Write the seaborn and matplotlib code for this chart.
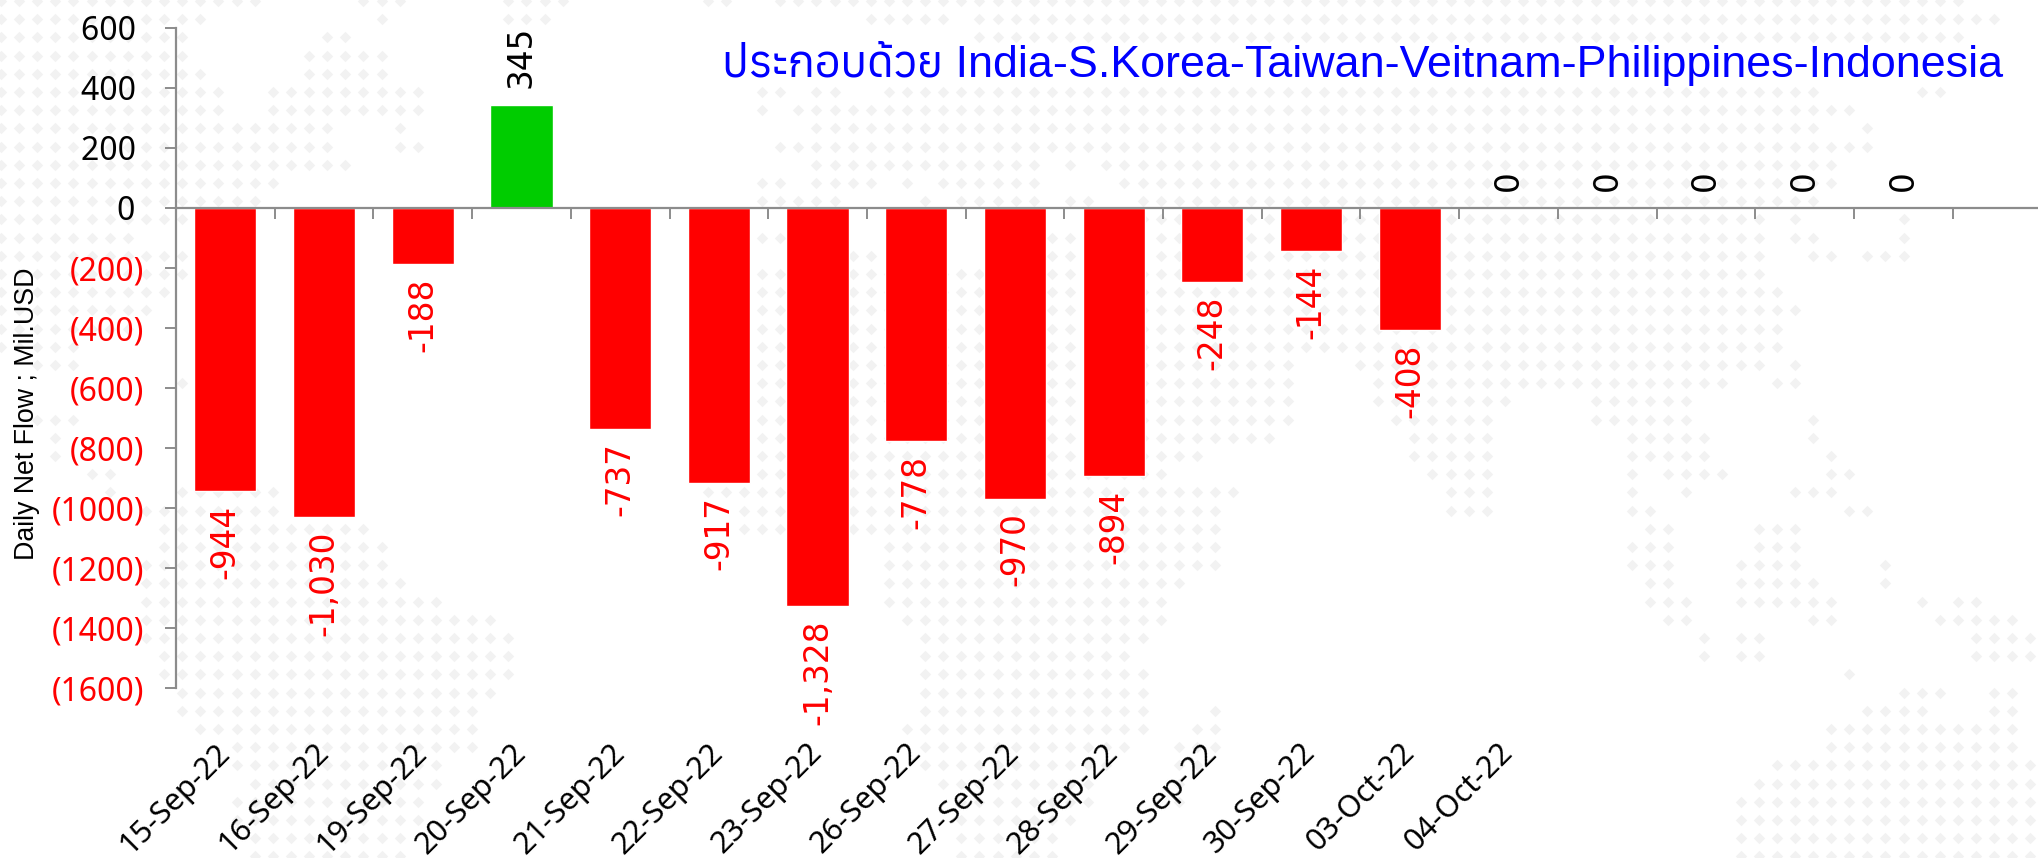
import numpy as np
import pandas as pd
import seaborn as sns
from matplotlib import pyplot as plt
from matplotlib.ticker import FuncFormatter

dates = ['15-Sep-22', '16-Sep-22', '19-Sep-22', '20-Sep-22', '21-Sep-22', '22-Sep-22', '23-Sep-22',
         '26-Sep-22', '27-Sep-22', '28-Sep-22', '29-Sep-22', '30-Sep-22', '03-Oct-22', '04-Oct-22',
         '', '', '', '']
flows = [-944, -1030, -188, 345, -737, -917, -1328, -778, -970, -894, -248, -144, -408, 0, 0, 0, 0, 0]
y_ticks = [600, 400, 200, 0, -200, -400, -600, -800, -1000, -1200, -1400, -1600]
title = 'ประกอบด้วย India-S.Korea-Taiwan-Veitnam-Philippines-Indonesia'
y_label = 'Daily Net Flow ; Mil.USD'

# faint dotted world map behind the chart: row -> runs of dot columns
map_rows = {
    0: [(0, 14), (20, 22), (28, 31), (39, 40), (43, 75), (76, 108)],
    1: [(0, 11), (21, 21), (28, 30), (48, 52), (54, 110)],
    2: [(0, 10), (18, 19), (54, 108)],
    3: [(0, 10), (17, 21)],
    4: [(0, 11), (17, 21)],
    5: [(0, 12), (15, 23), (42, 43), (45, 46), (49, 100), (106, 107)],
    6: [(0, 12), (15, 23), (42, 42), (44, 102)],
    7: [(0, 18), (22, 22), (45, 100), (103, 103)],
    8: [(0, 18), (22, 23), (43, 103)],
    9: [(0, 19), (45, 57), (59, 59), (61, 101)],
    10: [(0, 15), (42, 43), (45, 48), (50, 50), (52, 57), (62, 101)],
    11: [(0, 14), (42, 46), (51, 51), (53, 57), (59, 60), (63, 100)],
    12: [(0, 10), (63, 97), (99, 99), (105, 105)],
    13: [(0, 7), (42, 43), (58, 59), (64, 97), (99, 100), (105, 105)],
    14: [(0, 10), (47, 48), (58, 59), (64, 97), (100, 101), (103, 105)],
    15: [(0, 10), (42, 97)],
    16: [(0, 9), (42, 98)],
    17: [(0, 8), (42, 99)],
    18: [(0, 7), (42, 98)],
    19: [(0, 4), (42, 98)],
    20: [(2, 4), (42, 71), (75, 97), (99, 99)],
    21: [(10, 10), (42, 71), (76, 95), (98, 99)],
    22: [(42, 71), (76, 83), (88, 93)],
    23: [(2, 4), (42, 71), (77, 82), (88, 93), (100, 100)],
    24: [(3, 3), (42, 70), (78, 82), (90, 94), (100, 100)],
    25: [(3, 3), (42, 66), (78, 82), (90, 94), (101, 101)],
    26: [(5, 6), (42, 64), (79, 82), (90, 90), (92, 95), (101, 102)],
    27: [(6, 6), (10, 15), (39, 68), (80, 82), (90, 90), (93, 93), (99, 101)],
    28: [(8, 15), (41, 67), (80, 82), (90, 91), (102, 103)],
    29: [(9, 20), (41, 67), (91, 92), (97, 99)],
    30: [(9, 21), (49, 67), (90, 92), (97, 99)],
    31: [(8, 21), (49, 67), (90, 92), (96, 99), (104, 104)],
    32: [(8, 22), (49, 65), (91, 92), (96, 100), (104, 104)],
    33: [(8, 24), (49, 64), (91, 93), (96, 101), (106, 106), (108, 109)],
    34: [(8, 27), (50, 64), (92, 93), (100, 101), (107, 111)],
    35: [(8, 28), (51, 63), (94, 94), (96, 97), (109, 112)],
    36: [(9, 28), (51, 62), (94, 94), (96, 97), (109, 112)],
    37: [(9, 28), (51, 63), (102, 102)],
    38: [(10, 27), (51, 63), (105, 107), (110, 111)],
    39: [(10, 26), (51, 63), (67, 67), (103, 106), (110, 111)],
    40: [(11, 26), (50, 63), (66, 67), (101, 111)],
    41: [(13, 26), (51, 62), (65, 67), (101, 111)],
    42: [(13, 24), (51, 61), (65, 66), (98, 112)],
    43: [(14, 24), (52, 60), (65, 65), (97, 112)],
    44: [(13, 23), (53, 60), (65, 65), (96, 112)],
    45: [(13, 23), (53, 59), (96, 112)],
    46: [(14, 22), (53, 58), (96, 112)],
    47: [(14, 22), (53, 58), (96, 112)],
}

sns.set_style('ticks')
plt.rcParams['font.family'] = ['Noto Sans', 'DejaVu Sans']

W, H = 2038, 858
AXIS_GRAY = '#8c8c8c'
fig = plt.figure(figsize=(W / 100, H / 100), dpi=100, facecolor='white')

# background map, in pixel coordinates of the whole figure
bg = fig.add_axes([0, 0, 1, 1], zorder=0)
bg.set_xlim(0, W)
bg.set_ylim(H, 0)
bg.axis('off')
dot_x, dot_y = [], []
for row, runs in map_rows.items():
    for start, end in runs:
        for col in range(start, end + 1):
            dot_x.append(1 + 18.12 * col)
            dot_y.append(1 + 18.2 * row)
bg.scatter(dot_x, dot_y, marker='D', s=34, color='#f2f2f2', linewidths=0)

ax = fig.add_axes([176 / W, 1 - 688 / H, (W - 176) / W, 660 / H], zorder=1)
ax.patch.set_alpha(0)

df = pd.DataFrame({'pos': np.arange(len(flows)), 'flow': flows})
df['side'] = np.where(df['flow'] < 0, 'out', 'in')
sns.barplot(data=df, x='pos', y='flow', hue='side', dodge=False, width=0.63, saturation=1,
            palette={'out': '#ff0000', 'in': '#00cc00'}, legend=False, ax=ax)

for bars in ax.containers:
    is_out = bars[0].get_height() < 0
    ax.bar_label(bars, fmt='{:,.0f}', rotation=90, fontsize=23.5, family='DejaVu Sans',
                 color='#ff0000' if is_out else 'black', padding=9.5 if is_out else 12)

sns.despine(ax=ax)
# this resets the ticks, so it has to come before they are styled
ax.spines['bottom'].set_position(('data', 0))
for side in ['left', 'bottom']:
    ax.spines[side].set_color(AXIS_GRAY)
    ax.spines[side].set_linewidth(1.6)

ax.set_ylim(-1600, 600)
ax.set_xlim(-0.5, -0.5 + (W - 176) / 98.7)
ax.set_yticks(y_ticks)
ax.yaxis.set_major_formatter(FuncFormatter(lambda v, p: f'{v:.0f} ' if v >= 0 else f'({-v:.0f})'))
ax.set_xticks(df['pos'], dates)
ax.set_xticks(np.arange(len(flows)) + 0.5, minor=True)
ax.set_xlabel('')
ax.set_ylabel('')

ax.tick_params(axis='y', length=8, width=1.4, color=AXIS_GRAY, labelsize=23, pad=15)
ax.tick_params(axis='x', which='major', length=0, labelsize=22, pad=389)
ax.tick_params(axis='x', which='minor', length=8, width=1.4, color=AXIS_GRAY)
plt.setp(ax.get_xticklabels(), rotation=45, ha='right', va='center', rotation_mode='anchor', color='black')
for lab, v in zip(ax.get_yticklabels(), y_ticks):
    lab.set_color('#ff0000' if v < 0 else 'black')

fig.text(27 / W, 1 - 414 / H, y_label, rotation=90, ha='center', va='center', fontsize=19.3,
         family='Liberation Sans', color='black')
fig.text(722 / W, 1 - 77 / H, title, ha='left', va='baseline', fontsize=32.3, color='#0000ff',
         family=['Liberation Sans', 'Anuphan', 'DejaVu Sans'])

fig.savefig('out.png', dpi=100)
